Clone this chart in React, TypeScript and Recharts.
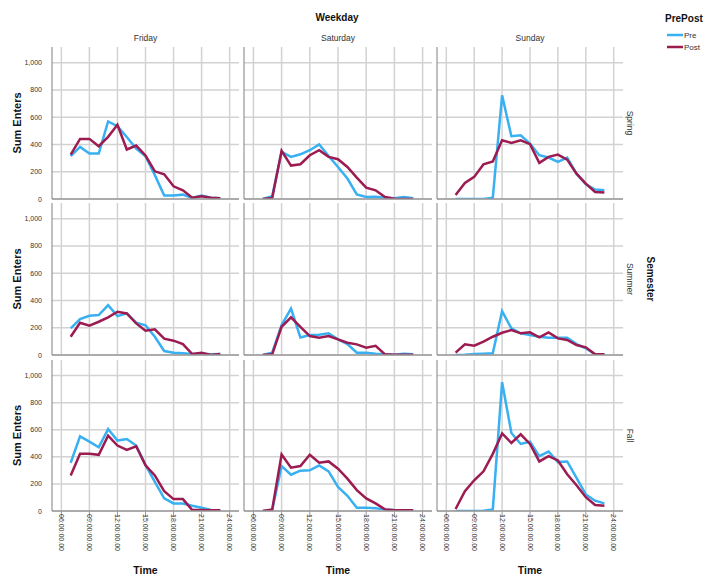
import React from "react";
import { LineChart, Line, XAxis, YAxis, CartesianGrid } from "recharts";

const hours = [7, 8, 9, 10, 11, 12, 13, 14, 15, 16, 17, 18, 19, 20, 21, 22, 23];
const timeTicks = [6, 9, 12, 15, 18, 21, 24];
const valueTicks = [0, 200, 400, 600, 800, 1000];
const weekdays = ["Friday", "Saturday", "Sunday"];
const semesters = ["Spring", "Summer", "Fall"];
const seriesNames = ["Pre", "Post"];

const fridaySpringPre = [314, 382, 333, 333, 569, 534, 455, 370, 314, 175, 25, 25, 32, 7, 25, 10, 5];
const fridaySpringPost = [326, 441, 441, 387, 456, 544, 363, 392, 319, 203, 181, 93, 64, 10, 20, 10, 5];
const saturdaySpringPre = [0, 20, 345, 309, 328, 358, 400, 315, 235, 150, 34, 15, 17, 10, 5, 15, 5];
const saturdaySpringPost = [0, 7, 353, 245, 255, 321, 358, 309, 292, 235, 157, 83, 64, 15, 2, 0, 0];
const sundaySpringPre = [0, 0, 0, 0, 10, 760, 461, 468, 407, 321, 304, 272, 304, 186, 108, 69, 64];
const sundaySpringPost = [29, 118, 162, 255, 275, 431, 412, 431, 402, 265, 309, 326, 289, 186, 113, 51, 47];

const fridaySummerPre = [195, 263, 288, 293, 366, 285, 305, 237, 217, 134, 29, 17, 12, 7, 10, 5, 7];
const fridaySummerPost = [134, 237, 215, 244, 276, 317, 305, 232, 178, 188, 120, 105, 80, 7, 17, 0, 7];
const saturdaySummerPre = [0, 17, 220, 341, 129, 146, 149, 159, 115, 80, 17, 17, 10, 5, 2, 10, 5];
const saturdaySummerPost = [0, 5, 207, 276, 207, 139, 127, 139, 115, 90, 78, 54, 68, 5, 2, 2, 2];
const sundaySummerPre = [0, 2, 7, 10, 12, 322, 195, 159, 146, 134, 127, 127, 127, 80, 49, 5, 5];
const sundaySummerPost = [17, 78, 68, 98, 134, 163, 183, 159, 166, 129, 166, 122, 110, 73, 56, 5, 5];

const fridayFallPre = [356, 551, 512, 471, 605, 520, 532, 483, 341, 215, 93, 56, 56, 39, 24, 7, 5];
const fridayFallPost = [263, 422, 422, 415, 556, 483, 451, 478, 337, 263, 146, 88, 88, 7, 7, 5, 5];
const saturdayFallPre = [0, 7, 332, 268, 298, 300, 337, 293, 178, 112, 24, 24, 20, 12, 7, 5, 5];
const saturdayFallPost = [0, 12, 417, 320, 332, 415, 356, 366, 312, 239, 154, 93, 56, 12, 5, 5, 5];
const sundayFallPre = [0, 0, 0, 2, 12, 951, 576, 495, 512, 405, 439, 361, 366, 244, 122, 76, 56];
const sundayFallPost = [15, 146, 227, 293, 422, 573, 502, 566, 495, 366, 405, 373, 271, 190, 102, 44, 39];

const grid: number[][][] = [
  [fridaySpringPre, fridaySpringPost, saturdaySpringPre, saturdaySpringPost, sundaySpringPre, sundaySpringPost],
  [fridaySummerPre, fridaySummerPost, saturdaySummerPre, saturdaySummerPost, sundaySummerPre, sundaySummerPost],
  [fridayFallPre, fridayFallPost, saturdayFallPre, saturdayFallPost, sundayFallPre, sundayFallPost],
];

const PRE = "#38b0f2";
const POST = "#9c1b50";
const FONT = "'Liberation Sans', Arial, sans-serif";

const cols = [
  { left: 52, width: 187 },
  { left: 244, width: 188 },
  { left: 437, width: 186 },
];
const rows = [
  { top: 47, height: 152 },
  { top: 203, height: 152 },
  { top: 360, height: 151 },
];
const Y_AXIS_W = 40;
const X_AXIS_H = 64;

const fmtTime = (h: number) => `${String(h).padStart(2, "0")}:00:00.00`;

const TimeTick = (props: any) => {
  const { x, y, payload } = props;
  const yy = y - 3;
  return (
    <text
      x={x}
      y={yy}
      transform={`rotate(90 ${x} ${yy})`}
      textAnchor="start"
      dy="0.35em"
      fontSize={7}
      fill="#333"
      fontFamily={FONT}
    >
      {fmtTime(payload.value)}
    </text>
  );
};

const NoTick = () => <g />;

const ValueTick = (props: any) => {
  const { x, y, payload } = props;
  return (
    <text x={x} y={y} textAnchor="end" dominantBaseline="central" fontSize={7} fill="#333" fontFamily={FONT}>
      {Number(payload.value).toLocaleString("en-US")}
    </text>
  );
};

function Panel({ r, c }: { r: number; c: number }) {
  const pre = grid[r][c * 2];
  const post = grid[r][c * 2 + 1];
  const data = hours.map((h, i) => ({ t: h, pre: pre[i], post: post[i] }));
  const col = cols[c];
  const row = rows[r];
  const bottom = r === 2;
  const xh = bottom ? X_AXIS_H : 8;
  return (
    <div style={{ position: "absolute", left: col.left - Y_AXIS_W, top: row.top - 6 }}>
      <LineChart
        width={col.width + Y_AXIS_W}
        height={row.height + xh + 6}
        data={data}
        margin={{ top: 6, right: 0, bottom: 0, left: 0 }}
      >
        <CartesianGrid
          stroke="#d2d2d2"
          strokeWidth={1.5}
          horizontalValues={valueTicks}
          verticalValues={timeTicks}
        />
        <XAxis
          dataKey="t"
          type="number"
          domain={[5, 25]}
          ticks={timeTicks}
          allowDataOverflow
          height={xh}
          axisLine={{ stroke: "#9a9a9a", strokeWidth: 1.5 }}
          tickLine={bottom ? { stroke: "#9a9a9a" } : false}
          tickSize={6}
          tickMargin={0}
          tick={bottom ? <TimeTick /> : <NoTick />}
          interval={0}
        />
        <YAxis
          type="number"
          domain={[0, 1115]}
          ticks={valueTicks}
          allowDataOverflow
          width={Y_AXIS_W}
          axisLine={{ stroke: "#808080", strokeWidth: 1 }}
          tickLine={false}
          tickMargin={4}
          tick={c === 0 ? <ValueTick /> : <NoTick />}
          interval={0}
        />
        <Line type="linear" dataKey="pre" stroke={PRE} strokeWidth={2.5} dot={false} isAnimationActive={false} />
        <Line type="linear" dataKey="post" stroke={POST} strokeWidth={2.5} dot={false} isAnimationActive={false} />
      </LineChart>
    </div>
  );
}

export default function App() {
  const colCenters = cols.map((c) => c.left + c.width / 2);
  const rowCenters = rows.map((r) => r.top + r.height / 2);
  return (
    <div style={{ position: "absolute", left: 0, top: 0, width: 704, height: 577, background: "#fff", fontFamily: FONT }}>
      {rows.map((_, r) => cols.map((__, c) => <Panel key={`${r}-${c}`} r={r} c={c} />))}
      <svg width={704} height={577} style={{ position: "absolute", left: 0, top: 0, pointerEvents: "none" }}>
        <text x={337} y={17} textAnchor="middle" dominantBaseline="central" fontSize={10} fontWeight="bold" fill="#111" fontFamily={FONT}>
          Weekday
        </text>
        {weekdays.map((d, i) => (
          <text key={d} x={colCenters[i]} y={38} textAnchor="middle" dominantBaseline="central" fontSize={8.5} fill="#333" fontFamily={FONT}>
            {d}
          </text>
        ))}
        {semesters.map((s, i) => (
          <text
            key={s}
            x={630}
            y={rowCenters[i]}
            transform={`rotate(90 630 ${rowCenters[i]})`}
            textAnchor="middle"
            dominantBaseline="central"
            fontSize={8.5}
            fill="#333"
            fontFamily={FONT}
          >
            {s}
          </text>
        ))}
        <text x={650} y={279} transform="rotate(90 650 279)" textAnchor="middle" dominantBaseline="central" fontSize={10} fontWeight="bold" fill="#111" fontFamily={FONT}>
          Semester
        </text>
        {rowCenters.map((cy, i) => (
          <text
            key={`yt${i}`}
            x={17}
            y={cy}
            transform={`rotate(-90 17 ${cy})`}
            textAnchor="middle"
            dominantBaseline="central"
            fontSize={11}
            fontWeight="bold"
            fill="#111"
            fontFamily={FONT}
          >
            Sum Enters
          </text>
        ))}
        {colCenters.map((cx, i) => (
          <text key={`xt${i}`} x={cx} y={570} textAnchor="middle" dominantBaseline="central" fontSize={10.5} fontWeight="bold" fill="#111" fontFamily={FONT}>
            Time
          </text>
        ))}
        <text x={665} y={18} textAnchor="start" dominantBaseline="central" fontSize={10} fontWeight="bold" fill="#111" fontFamily={FONT}>
          PrePost
        </text>
        {seriesNames.map((n, i) => (
          <g key={n}>
            <line x1={667} x2={683} y1={35 + i * 12} y2={35 + i * 12} stroke={i === 0 ? PRE : POST} strokeWidth={2.5} />
            <text x={684} y={35 + i * 12} textAnchor="start" dominantBaseline="central" fontSize={8} fill="#333" fontFamily={FONT}>
              {n}
            </text>
          </g>
        ))}
      </svg>
    </div>
  );
}
